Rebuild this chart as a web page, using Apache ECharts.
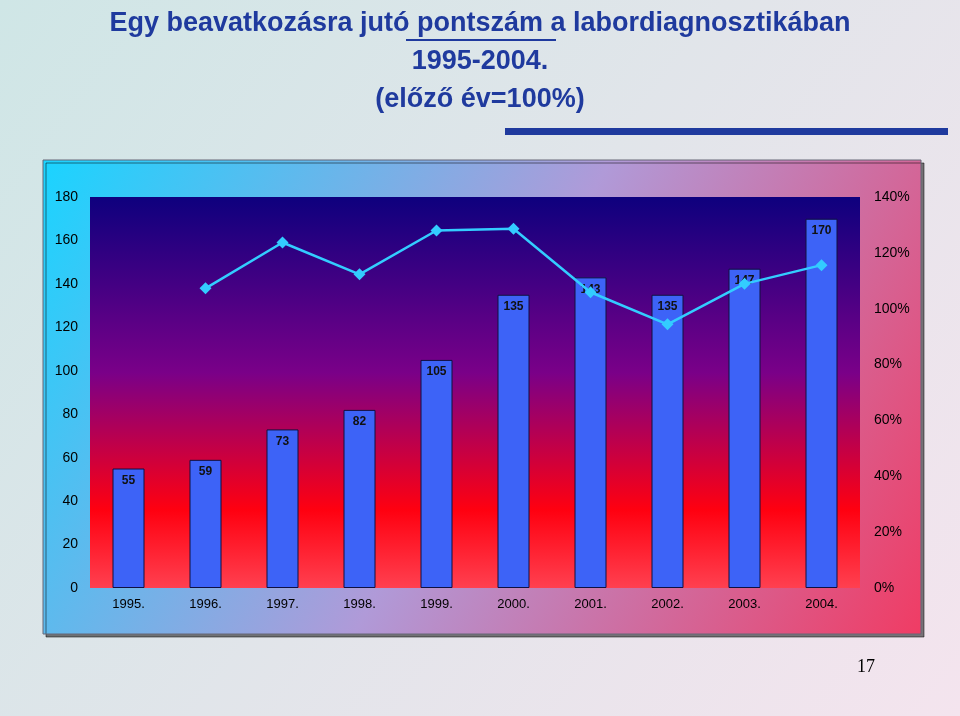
<!DOCTYPE html>
<html><head><meta charset="utf-8">
<script src="https://cdn.jsdelivr.net/npm/echarts@6/dist/echarts.min.js"></script>
<style>html,body{margin:0;padding:0;background:#fff}#c{width:960px;height:716px}</style>
</head><body><div id="c"></div>
<script>
const categories = ['1995.','1996.','1997.','1998.','1999.','2000.','2001.','2002.','2003.','2004.'];
const points = [55,59,73,82,105,135,143,135,147,170];
const ratio = [null,107.3,123.7,112.3,128.0,128.6,105.9,94.4,108.9,115.6];
const leftTicks = [0,20,40,60,80,100,120,140,160,180];

const chart = echarts.init(document.getElementById('c'));
const titleStyle = {fontFamily:'Liberation Sans, Arial', fontWeight:'bold', fontSize:27, fill:'#1f3a9e',
  textShadowColor:'rgba(0,0,0,0.35)', textShadowOffsetX:2, textShadowOffsetY:2};
chart.setOption({
  animation:false,
  graphic:[
    {type:'rect', shape:{x:0,y:0,width:960,height:716}, style:{fill:new echarts.graphic.LinearGradient(0,0,1,1,[{offset:0,color:'#cfe6e6'},{offset:1,color:'#f4e4ee'}])}, z:-10},
    {type:'rect', shape:{x:43,y:160,width:878,height:474}, style:{fill:new echarts.graphic.LinearGradient(0,0,1,1,[{offset:0,color:'#1ad4ff'},{offset:0.5,color:'#b09ad8'},{offset:1,color:'#f03c64'}]), stroke:'#667', lineWidth:1, shadowColor:'rgba(0,0,0,0.5)', shadowOffsetX:3, shadowOffsetY:3}, z:-9},
    {type:'text', left:'center', top:10, style:Object.assign({text:'Egy beavatkozásra jutó pontszám a labordiagnosztikában', fontSize:27}, titleStyle)},
    {type:'line', shape:{x1:406,y1:40,x2:556,y2:40}, style:{stroke:'#1f3a9e', lineWidth:2}},
    {type:'text', left:'center', top:48, style:Object.assign({text:'1995-2004.'}, titleStyle)},
    {type:'text', left:'center', top:86, style:Object.assign({text:'(előző év=100%)'}, titleStyle)},
    {type:'rect', shape:{x:505,y:128,width:443,height:7}, style:{fill:'#1f3a9e'}},
    {type:'text', left:857, top:658, style:{text:'17', fontFamily:'Liberation Serif', fontSize:18, fill:'#000'}}
  ],
  grid:{left:90, right:100, top:197, bottom:128, show:true, borderWidth:0,
    backgroundColor:new echarts.graphic.LinearGradient(0,0,0,1,[{offset:0,color:'#0e007e'},{offset:0.45,color:'#7a0088'},{offset:0.8,color:'#ff0010'},{offset:1,color:'#ff4050'}])},
  xAxis:{type:'category', data:categories, axisLine:{show:false}, axisTick:{show:false},
    axisLabel:{color:'#000', fontSize:13, fontFamily:'Liberation Sans', margin:10}},
  yAxis:[
    {type:'value', min:0, max:180, interval:20, splitLine:{show:false}, axisLine:{show:false}, axisTick:{show:false},
      axisLabel:{color:'#000', fontSize:14, fontFamily:'Liberation Sans', margin:12}},
    {type:'value', min:0, max:140, interval:20, splitLine:{show:false}, axisLine:{show:false}, axisTick:{show:false},
      axisLabel:{color:'#000', fontSize:14, fontFamily:'Liberation Sans', margin:14, formatter:'{value}%'}}
  ],
  series:[
    {type:'bar', data:points, barWidth:32, itemStyle:{color:'#3d63f7', borderColor:'#101040', borderWidth:1},
      label:{show:true, position:'insideTop', distance:6, color:'#111', fontWeight:'bold', fontSize:12, fontFamily:'Liberation Sans'}},
    {type:'line', yAxisIndex:1, data:ratio, symbol:'diamond', symbolSize:12, lineStyle:{color:'#33ccff', width:2.5}, itemStyle:{color:'#33ccff'}}
  ]
});
</script></body></html>
